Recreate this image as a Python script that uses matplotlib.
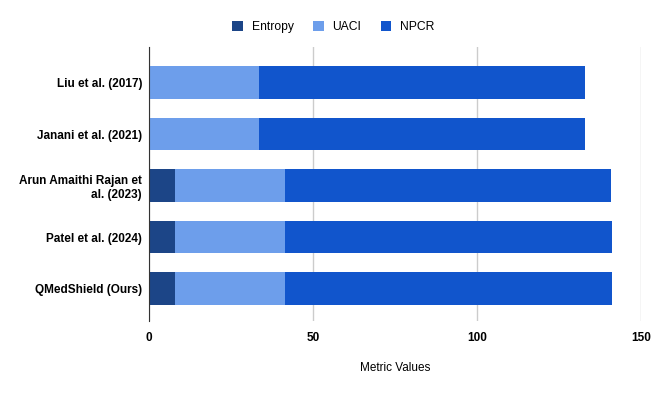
import matplotlib.pyplot as plt
import numpy as np

plt.rcParams["font.family"] = ["Liberation Sans", "DejaVu Sans"]

# data
methods = [
    "Liu et al. (2017)",
    "Janani et al. (2021)",
    "Arun Amaithi Rajan et\nal. (2023)",
    "Patel et al. (2024)",
    "QMedShield (Ours)",
]
entropy = [0.0, 0.0, 7.99, 7.99, 7.999]
uaci = [33.46, 33.46, 33.40, 33.55, 33.60]
npcr = [99.61, 99.61, 99.60, 99.60, 99.70]

series = [("Entropy", entropy, "#1c4587"),
          ("UACI", uaci, "#6d9eeb"),
          ("NPCR", npcr, "#1155cc")]

fig = plt.figure(figsize=(6.6, 3.94), dpi=100)
ax = fig.add_axes([149 / 660, 1 - 321 / 394, (641 - 149) / 660, (321 - 47) / 394])

y = np.arange(len(methods))
left = np.zeros(len(methods))
for name, vals, color in series:
    ax.barh(y, vals, left=left, height=0.635, color=color, label=name, zorder=3)
    left += np.array(vals)

ax.set_xlim(0, 150)
ax.set_ylim(4.63, -0.69)
ax.set_xticks([0, 50, 100, 150])
ax.set_yticks(y)
ax.set_yticklabels(methods, fontsize=8.5, fontweight="bold", linespacing=1.2)
ax.set_xticklabels(["0", "50", "100", "150"], fontsize=8.5, fontweight="bold")
ax.tick_params(length=0, pad=5)
ax.tick_params(axis="x", pad=8)
ax.grid(axis="x", color="#cccccc", linewidth=1, zorder=0)
for s in ["top", "right", "bottom"]:
    ax.spines[s].set_visible(False)
ax.spines["left"].set_color("#333333")
ax.spines["left"].set_zorder(4)

ax.set_xlabel("Metric Values", fontsize=8.5, labelpad=13)

fig.legend(loc="upper center", bbox_to_anchor=(0.505, 0.975), ncol=3, frameon=False,
           fontsize=8.7, handlelength=0.9, handleheight=0.9, columnspacing=1.6,
           handletextpad=0.7)

fig.savefig("out.png", dpi=100)
